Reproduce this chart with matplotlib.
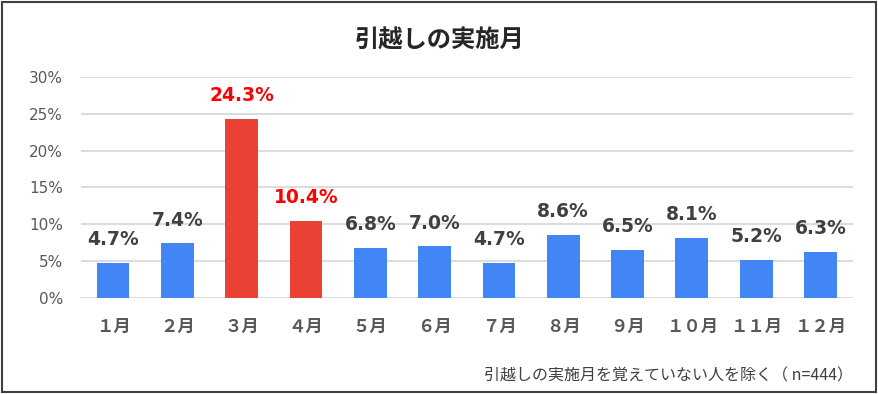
import matplotlib
matplotlib.use("Agg")
import matplotlib.pyplot as plt
from matplotlib.patches import Rectangle

plt.rcParams['font.family'] = ['Noto Sans CJK JP', 'DejaVu Sans']

# chart data
months = ['１月', '２月', '３月', '４月', '５月', '６月',
          '７月', '８月', '９月', '１０月', '１１月', '１２月']
shares = [4.7, 7.4, 24.3, 10.4, 6.8, 7.0, 4.7, 8.6, 6.5, 8.1, 5.2, 6.3]
highlight = ['３月', '４月']
y_ticks = [0, 5, 10, 15, 20, 25, 30]

title = '引越しの実施月'
note = '引越しの実施月を覚えていない人を除く（ n=444）'

BLUE = '#4285F4'
RED = '#EA4335'
LABEL_GRAY = '#404040'
TICK_GRAY = '#595959'

fig = plt.figure(figsize=(8.79, 3.94), dpi=100)
ax = fig.add_axes([0.092, 0.2437, 0.878, 0.561])

x = range(len(months))
colors = [RED if m in highlight else BLUE for m in months]
ax.bar(x, shares, width=0.51, color=colors, zorder=3)

# value labels above bars (Verdana-like bold digits)
for i, (m, v) in enumerate(zip(months, shares)):
    is_hl = m in highlight
    ax.annotate(f'{v:.1f}%', (i, v), xytext=(0, 10), textcoords='offset points',
                ha='center', va='bottom', fontsize=13.5, fontweight='bold',
                family='DejaVu Sans',
                color='#FF0000' if is_hl else LABEL_GRAY, zorder=4)

ax.set_ylim(0, 30)
ax.set_xlim(-0.5, len(months) - 0.5)
ax.set_yticks(y_ticks)
ax.set_yticklabels([f'{t}%' for t in y_ticks], fontsize=11, color=TICK_GRAY,
                   family='DejaVu Sans')
ax.set_xticks(list(x))
ax.set_xticklabels(months, fontsize=12.5, fontweight='bold', color=TICK_GRAY)
ax.tick_params(axis='both', length=0)
ax.tick_params(axis='y', pad=13)
ax.tick_params(axis='x', pad=14.5)
ax.grid(axis='y', color='#D9D9D9', linewidth=1.3, zorder=0)
for s in ax.spines.values():
    s.set_visible(False)

fig.text(0.5, 0.898, title, ha='center', va='center', fontsize=17.5,
         fontweight='bold', color='#262626')
fig.text(0.970, 0.025, note, ha='right', va='bottom', fontsize=11.5, color='#404040')

fig.add_artist(Rectangle((0.002, 0.004), 0.995, 0.99, transform=fig.transFigure,
                         fill=False, edgecolor='#404040', linewidth=1.5))

fig.savefig('out.png', dpi=100)
